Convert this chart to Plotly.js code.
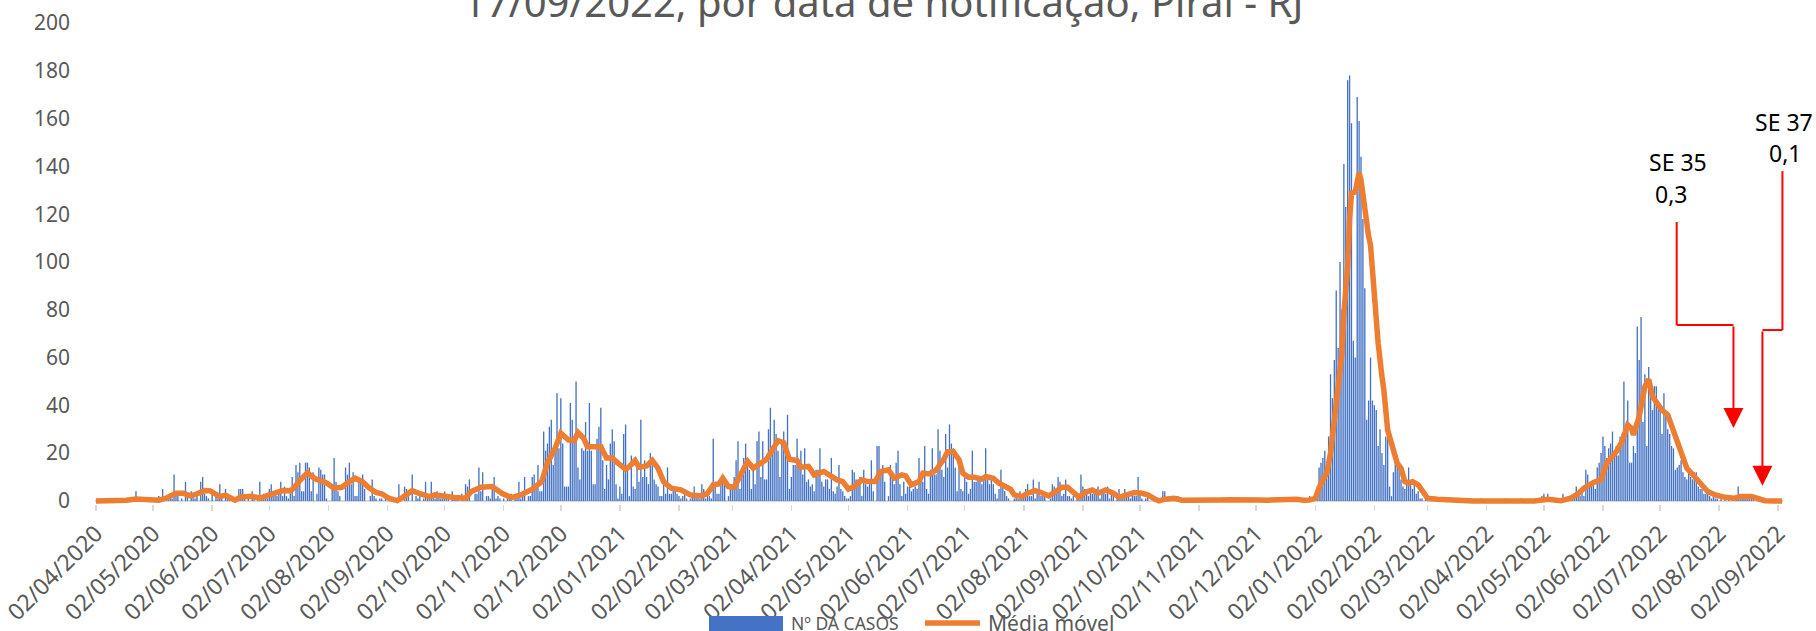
<!DOCTYPE html>
<html><head><meta charset="utf-8">
<script src="https://cdn.plot.ly/plotly-3.0.1.min.js"></script>
<style>html,body{margin:0;padding:0;background:#fff;overflow:hidden}#chart{width:1816px;height:631px}</style>
</head><body><div id="chart"></div>
<script>
// ---------- data ----------
const titleText = '17/09/2022, por data de notificação, Piraí - RJ';
const barName = 'Nº DA CASOS';
const lineName = 'Média móvel';
const firstDayUTC = Date.UTC(2020, 3, 2); // 02/04/2020

// daily cases, 02/04/2020 - 31/12/2020
const cases2020 = [
 0,1,0,0,0,0,0,0,0,0, 0,0,0,0,0,0,1,0,0,0, 1,4,0,0,0,0,0,1,0,
 0,1,0,0,2,0,5,1,2,1, 3,1,11,2,3,0,1,0,8,2, 0,4,2,1,3,0,8,10,3,2, 1,
 0,5,0,2,1,7,2,0,5,2, 1,0,0,0,1,5,5,5,1,0, 2,0,4,1,0,2,8,1,3,2,
 1,5,7,2,4,2,3,8,2,6, 2,1,3,10,2,15,12,16,4,4, 16,16,14,4,12,0,3,14,13,11, 11,
 1,0,0,6,18,8,4,2,0,0, 14,11,16,7,12,2,2,9,8,11, 5,0,0,2,9,2,1,0,1,1, 0,
 1,0,0,1,0,0,0,7,1,0, 6,5,2,0,11,0,2,1,2,0, 1,8,2,1,8,2,1,4,2,1,
 1,4,1,2,0,4,1,2,1,0, 3,2,7,6,9,0,0,3,3,14, 4,12,0,2,2,1,6,10,1,2, 1,
 0,1,0,1,2,3,0,2,1,8, 1,3,10,0,2,2,10,11,7,15, 4,4,29,21,24,31,34,15,20,45,
 22,43,24,6,6,6,41,34,25,50, 14,9,22,21,33,21,41,21,7,7, 26,31,39,17,5,15,9,24,30,25, 7
];
// daily cases, 2021
const cases2021 = [
 1,6,3,28,32,13,2,19,6,5, 16,8,34,10,17,10,7,20,18,9, 7,6,2,2,10,3,14,3,3,5, 5,
 3,2,1,2,5,1,0,1,2,6, 3,2,1,7,5,1,3,2,1,26, 8,3,3,7,9,7,0,2,
 5,5,10,17,25,5,11,18,24,15, 13,5,13,7,25,29,10,25,9,9, 30,39,20,34,28,21,10,25,29,21, 36,
 5,10,15,15,26,17,21,11,22,8, 9,6,7,4,13,13,22,8,6,9, 9,5,18,4,3,6,15,5,4,2,
 1,1,2,13,12,9,9,10,2,13, 7,6,7,17,4,0,23,23,13,15, 8,0,2,15,10,7,16,21,7,2, 8,
 3,6,6,4,5,6,5,18,8,8, 23,5,3,13,22,11,11,30,21,13, 10,28,14,32,24,22,14,4,17,5,
 4,10,8,3,5,21,8,8,9,9, 7,9,22,9,7,10,7,3,1,5, 13,6,4,2,1,0,0,1,2,1, 4,
 1,2,5,7,2,2,9,1,5,8, 2,2,2,0,0,1,7,6,4,10, 8,2,3,9,2,2,1,2,0,1, 3,
 11,6,5,3,2,5,3,5,5,6, 1,3,5,3,6,1,4,2,0,2, 5,1,3,5,3,2,1,3,2,2,
 10,3,1,0,1,3,0,0,0,0, 0,0,0,4,4,0,1,1,0,0, 0,2,0,0,1,0,0,0,1,0, 0,
 0,0,0,0,1,0,0,0,0,0, 1,0,0,0,0,0,0,1,0,0, 0,0,0,1,0,0,0,0,0,1,
 0,0,0,0,0,1,0,0,0,0, 0,0,1,0,0,0,0,0,1,0, 0,0,0,1,0,0,0,0,0,2, 0
];
// daily cases, 01/01/2022 - 04/09/2022
const cases2022 = [
 1,3,6,14,16,18,21,12,27,53, 43,59,88,64,100,80,141,123,176,178, 158,67,60,169,159,144,118,89,34,42, 60,
 42,40,38,23,30,20,15,27,28,6, 2,12,17,19,16,9,6,5,9,14, 8,5,7,3,4,1,1,0,
 1,0,0,0,0,1,0,0,0,0, 1,0,0,0,1,0,0,0,1,0, 0,0,0,1,0,0,0,0,0,1, 0,
 0,0,0,0,0,0,0,0,0,0, 0,1,0,0,0,0,0,0,0,1, 0,0,0,0,0,0,0,0,0,1,
 2,3,1,3,0,1,0,0,0,1, 0,3,1,0,1,1,2,3,6,4, 2,5,2,13,11,7,8,8,5,14, 16,
 20,27,23,18,22,24,29,21,23,19, 27,28,50,32,42,16,16,23,20,73, 59,77,33,53,23,56,48,38,48,48,
 39,39,28,45,36,30,28,23,22,13, 14,15,17,12,10,9,12,10,9,12, 12,6,5,5,3,3,3,2,1,2, 1,
 1,0,1,0,1,0,1,0,1,0, 1,6,1,1,1,1,2,1,1,1, 0,1,0,0,0,0,0,0,0,0, 0,
 0,0,0,0
];

// moving average: day offset from 02/04/2020 and value
const maDay = [0,10,16,21,25,29,33,37,42,46,49,52,57,60,65,68,73,76,79,82,86,89,93,98,102,104,107,111,113,115,118,121,125,129,133,136,140,143,147,150,154,158,161,163,166,170,175,178,184,188,194,197,202,208,213,218,223,229,234,237,241,244,248,251,253,256,258,262,265,268,271,274,278,280,283,285,289,292,295,298,302,307,312,318,321,324,327,329,332,335,338,342,345,348,352,355,358,361,364,368,370,374,377,382,385,389,392,395,398,402,405,409,412,416,419,423,425,428,432,434,438,441,445,447,450,453,455,458,461,465,467,471,474,477,480,482,486,489,493,496,500,503,507,510,514,516,519,523,526,530,534,537,541,545,549,552,556,558,561,566,570,575,580,585,590,595,600,605,610,615,620,625,630,634,637,640,643,646,648,650,652,654,655,657,658,659,661,663,664,666,668,669,671,673,675,676,678,681,683,685,687,689,691,694,696,699,704,710,715,723,741,755,762,766,769,774,778,781,786,790,793,798,801,804,806,807,810,813,815,817,820,822,825,828,830,833,835,839,842,846,850,855,860,863,869,872,876,881,885];
const maValue = [0,0,0.3,0.8,0.6,0.5,0.3,1.2,3.2,3.2,2.2,2.6,4.3,4.2,1.8,2.4,0.3,1.6,1.9,1.9,1.2,2.0,3.0,4.3,4.2,5.5,8.5,11.8,10.5,9.3,8.5,7.5,5.3,5.7,8.0,9.5,8.0,5.7,3.5,3.0,1.0,0.1,1.5,2.5,4.3,3.0,1.8,2.5,1.5,1.4,1.1,3.9,5.7,6.0,3.2,1.4,2.5,4.9,8.1,16,22,28.3,25.5,25.2,28.6,26.2,22.7,22.5,22.7,17.9,17.9,15.8,13.2,14.4,16.9,14.1,14.6,16.9,13.7,8,5.3,4.6,2.5,2.1,3.2,6.7,7.1,9.5,6,5.7,10.2,16.5,13.7,15.5,17.4,21.3,25.2,24.4,17.4,16.9,14.1,14.4,10.9,12.3,10.9,8.8,8.1,4.9,6,8.8,8.1,8.1,12.3,13,9.5,10.9,10.5,6.7,8.1,11.6,11.3,13,17.4,20.6,20.6,17.2,11.6,9.9,9.9,9.1,10.2,9.5,7.4,6.3,4.9,2.5,1.8,3.2,4.3,3.5,2.1,3.5,5.7,5.7,2.5,1.5,3.5,4.6,3.2,4.6,3.2,1.5,2.5,3.5,3.2,2.5,0.7,0,0.7,1.1,0.3,0.2,0.1,0.3,0.4,0.5,0.3,0.3,0.4,0.3,0.5,0.5,0.7,0.3,0.4,1.1,7.4,11.6,19.9,33.9,47.8,61.8,78.5,98,117.6,128.7,129.4,137.4,134.3,120.4,110.6,107,84,66,52,46.4,29.7,21.3,15.8,13.7,8.1,7.4,8.1,6.7,4.6,1.1,0.7,0.4,0.3,0,0,0,0.7,0.3,0.1,1.1,3,5.3,7.7,8.8,15.8,20.6,24.8,31.8,30.4,27.6,35.3,47.8,50.9,43.7,39.7,38,36,29,25.8,18.5,13.7,10.2,7.4,3.9,2.5,1.5,1.1,1.8,1.8,1.1,0.1,0,0];

// callouts (day offset / value units)
const callouts = [
  {label: 'SE 35', value: '0,3', labelAt: [830.2, 141.8], valueAt: [826.5, 128.5],
   path: [[829.7, 116.7], [829.7, 73.6], [859.5, 73.6]], tip: [859.5, 30.5]},
  {label: 'SE 37', value: '0,1', labelAt: [885.8, 158.6], valueAt: [886.3, 145.6],
   path: [[885.2, 138], [885.2, 71.5], [874.7, 71.5]], tip: [874.7, 6.3]}
];

// ---------- chart ----------
function dayDate(d) {
  return new Date(firstDayUTC + d * 864e5).toISOString().replace('T', ' ').slice(0, 19);
}
const cases = cases2020.concat(cases2021, cases2022);
const barX = cases.map((_, i) => dayDate(i));
const lineX = maDay.map(dayDate);

const W = 1816, H = 631;
const M = {l: 95, r: 33, t: 23, b: 127, autoexpand: false};
const yMin = -1.3, yMax = 200;
const dMin = -0.5, dMax = cases.length - 0.5;
const plotH = H - M.t - M.b;
const plotW = W - M.l - M.r;
const xp = d => (d - dMin) / (dMax - dMin);
const yp = v => (v - yMin) / (yMax - yMin);
const pxPerUnit = plotH / (yMax - yMin);
const pxX = px => (px - M.l) / plotW;          // page pixel -> paper
const pxY = py => (H - M.b - py) / plotH;

const FONT = 'Noto Sans, Open Sans, sans-serif';
const GREY = '#595959';
const BLUE = '#4472C4', ORANGE = '#ED7D31';

const shapes = [];
const annotations = [{
  text: titleText, xref: 'paper', yref: 'paper', x: 0.4668, y: 1, xanchor: 'center', yanchor: 'bottom',
  yshift: -8, showarrow: false, font: {family: FONT, size: 40, color: GREY}
}];
callouts.forEach(c => {
  for (let k = 0; k < c.path.length - 1; k++) {
    shapes.push({type: 'line', xref: 'paper', yref: 'paper',
      x0: xp(c.path[k][0]), y0: yp(c.path[k][1]), x1: xp(c.path[k + 1][0]), y1: yp(c.path[k + 1][1]),
      line: {color: '#FF0000', width: 2}});
  }
  const last = c.path[c.path.length - 1];
  annotations.push({text: '', xref: 'paper', yref: 'paper', x: xp(c.tip[0]), y: yp(c.tip[1]),
    ax: 0, ay: -(last[1] - c.tip[1]) * pxPerUnit, showarrow: true, arrowhead: 2, arrowsize: 2,
    arrowwidth: 2, arrowcolor: '#FF0000', standoff: 0});
  annotations.push({text: c.label, xref: 'paper', yref: 'paper', x: xp(c.labelAt[0]), y: yp(c.labelAt[1]),
    xanchor: 'center', yanchor: 'middle', showarrow: false, font: {family: FONT, size: 23, color: '#000'}});
  annotations.push({text: c.value, xref: 'paper', yref: 'paper', x: xp(c.valueAt[0]), y: yp(c.valueAt[1]),
    xanchor: 'center', yanchor: 'middle', showarrow: false, font: {family: FONT, size: 23, color: '#000'}});
});

// legend drawn at the bottom edge (partly cut off, as in the original)
const legendItems = [
  {name: barName, kind: 'rect', x0: 709, x1: 783, textX: 789, size: 17.5, color: BLUE},
  {name: lineName, kind: 'line', x0: 925, x1: 980, textX: 986, size: 21, color: ORANGE}
];
const legendY = 623;
legendItems.forEach(it => {
  if (it.kind === 'rect') {
    shapes.push({type: 'rect', xref: 'paper', yref: 'paper', x0: pxX(it.x0), x1: pxX(it.x1),
      y0: pxY(616), y1: pxY(645), fillcolor: it.color, line: {width: 0}});
  } else {
    shapes.push({type: 'line', xref: 'paper', yref: 'paper', x0: pxX(it.x0), x1: pxX(it.x1),
      y0: pxY(legendY), y1: pxY(legendY), line: {color: it.color, width: 5.5}});
  }
  annotations.push({text: it.name, xref: 'paper', yref: 'paper', x: pxX(it.textX), y: pxY(legendY),
    xanchor: 'left', yanchor: 'middle', showarrow: false, font: {family: FONT, size: it.size, color: GREY}});
});

const traces = [
  {type: 'bar', name: barName, x: barX, y: cases, marker: {color: BLUE, line: {width: 0}}},
  {type: 'scatter', mode: 'lines', name: lineName, x: lineX, y: maValue,
   line: {color: ORANGE, width: 5.5}}
];

const layout = {
  width: W, height: H, margin: M, paper_bgcolor: '#fff', plot_bgcolor: '#fff',
  bargap: 0.3, showlegend: false, hovermode: false,
  font: {family: FONT, color: GREY},
  xaxis: {type: 'date', range: [dayDate(dMin), dayDate(dMax)], tick0: '2020-04-02', dtick: 'M1',
    tickformat: '%d/%m/%Y', tickangle: -45, tickfont: {family: FONT, size: 23, color: GREY},
    ticks: 'outside', ticklen: 6, tickwidth: 1.5, tickcolor: '#D9D9D9', automargin: false,
    ticklabeloverflow: 'allow',
    showgrid: false, zeroline: false, showline: false},
  yaxis: {range: [yMin, yMax], tick0: 0, dtick: 20, tickfont: {family: FONT, size: 21, color: GREY},
    showgrid: false, zeroline: true, zerolinecolor: '#D9D9D9', zerolinewidth: 2.5, showline: false,
    ticklabelstandoff: 24, automargin: false},
  shapes: shapes, annotations: annotations
};

Plotly.newPlot('chart', traces, layout, {displayModeBar: false, staticPlot: true});
</script>
</body></html>
